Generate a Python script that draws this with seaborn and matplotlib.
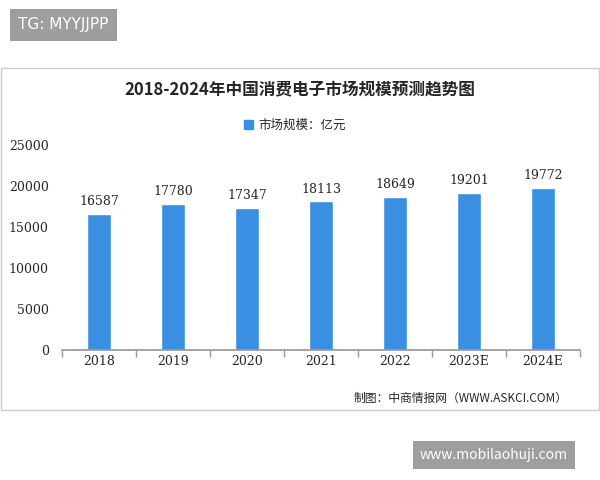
import matplotlib
matplotlib.use("Agg")
import matplotlib.pyplot as plt
import seaborn as sns
import pandas as pd
from matplotlib.patches import Rectangle

years = ["2018", "2019", "2020", "2021", "2022", "2023E", "2024E"]
values = [16587, 17780, 17347, 18113, 18649, 19201, 19772]
yticks = [0, 5000, 10000, 15000, 20000, 25000]

sns.set_theme(style="white")
plt.rcParams['font.family'] = ['Noto Sans CJK SC', 'DejaVu Sans']

fig = plt.figure(figsize=(6, 4.8), dpi=100)
W, H = 600, 480
def fx(x): return x / W
def fy(y): return 1 - y / H

fig.patches.append(Rectangle((fx(1), fy(410)), fx(598), 342 / H, transform=fig.transFigure,
                             fill=False, edgecolor="#cccccc", lw=1))
ax = fig.add_axes([fx(62), fy(350), fx(518), 205 / H])
df = pd.DataFrame({"year": years, "value": values})
sns.barplot(data=df, x="year", y="value", color="#3b8fe3", saturation=1, width=0.32, ax=ax)
for i, v in enumerate(values):
    ax.text(i, v + 700, str(v), ha="center", va="bottom", fontsize=9, family="DejaVu Serif")
ax.set_ylim(0, 25000)
ax.set_yticks(yticks)
ax.set_yticklabels([str(t) for t in yticks], fontsize=9, family="DejaVu Serif")
ax.set_xticklabels(years, fontsize=9, family="DejaVu Serif")
ax.set_xlabel(""); ax.set_ylabel("")
for s in ["top", "right", "left"]:
    ax.spines[s].set_visible(False)
ax.spines["bottom"].set_color("#999999")
ax.set_xticks([i + 0.5 for i in range(-1, 7)], minor=True)
ax.tick_params(axis="x", which="minor", length=5, color="#999999", bottom=True)
ax.tick_params(axis="x", which="major", length=0)

fig.text(0.5, fy(90), "2018-2024年中国消费电子市场规模预测趋势图", ha="center", va="center",
         fontsize=12, fontweight="bold")
fig.patches.append(Rectangle((fx(244), fy(129)), fx(9), 9 / H, transform=fig.transFigure,
                             color="#3b8fe3"))
fig.text(fx(258), fy(125), "市场规模：亿元", ha="left", va="center", fontsize=9)
fig.text(fx(568), fy(398), "制图：中商情报网（WWW.ASKCI.COM）", ha="right", va="center", fontsize=8.5)

fig.text(fx(18), fy(25), "TG: MYYJJPP", ha="left", va="center", fontsize=11, color="white",
         family="DejaVu Sans", bbox=dict(boxstyle="square,pad=0.55", fc="#9e9e9e", ec="none"))
fig.text(fx(420), fy(455), "www.mobilaohuji.com", ha="left", va="center", fontsize=10, color="white",
         bbox=dict(boxstyle="square,pad=0.5", fc="#9e9e9e", ec="none"))

fig.savefig("out.png", dpi=100)
